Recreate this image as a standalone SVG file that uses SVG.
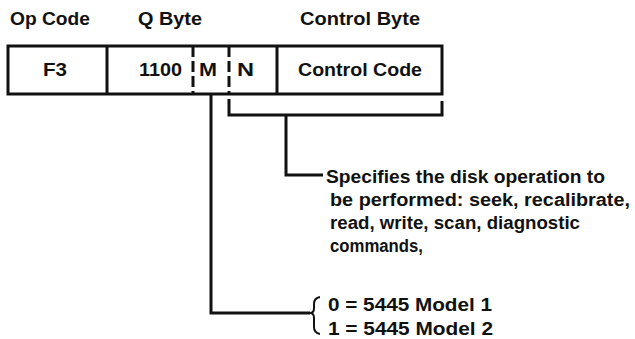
<svg xmlns="http://www.w3.org/2000/svg" width="635" height="339" viewBox="0 0 635 339">
<style>
text{font-family:"Liberation Sans",Arial,sans-serif;font-size:18px;font-weight:bold;fill:#111}
.box{fill:#fff;stroke:#111;stroke-width:3}
.div{stroke:#111;stroke-width:3;fill:none}
.dash{stroke:#111;stroke-width:3;stroke-dasharray:11,4;fill:none}
.conn{stroke:#111;stroke-width:3;fill:none}
.brace{stroke:#111;stroke-width:2;fill:none}
</style>
<g id="headers">
<text x="10" y="25" textLength="80" lengthAdjust="spacingAndGlyphs">Op Code</text>
<text x="138" y="25" textLength="64" lengthAdjust="spacingAndGlyphs">Q Byte</text>
<text x="300" y="25" textLength="120" lengthAdjust="spacingAndGlyphs">Control Byte</text>
</g>
<g id="record">
<rect class="box" x="8" y="46" width="434" height="48"/>
<line class="div" x1="107" y1="46" x2="107" y2="94"/>
<line class="dash" x1="193" y1="46" x2="193" y2="94"/>
<line class="dash" x1="229" y1="46" x2="229" y2="94"/>
<line class="div" x1="277" y1="46" x2="277" y2="94"/>
</g>
<g id="field-opcode"><text x="43" y="76" textLength="24" lengthAdjust="spacingAndGlyphs">F3</text></g>
<g id="field-1100"><text x="139" y="76" textLength="43" lengthAdjust="spacingAndGlyphs">1100</text></g>
<g id="field-M"><text x="199" y="76" textLength="18" lengthAdjust="spacingAndGlyphs">M</text></g>
<g id="field-N"><text x="237" y="76" textLength="17" lengthAdjust="spacingAndGlyphs">N</text></g>
<g id="field-control"><text x="298" y="76" textLength="124" lengthAdjust="spacingAndGlyphs">Control Code</text></g>
<g id="connectors">
<polyline class="conn" points="229,99 229,115 442,115 442,101"/>
<polyline class="conn" points="286,115 286,175 323,175"/>
<polyline class="conn" points="211,94 211,313 310,313"/>
<path class="brace" d="M320,297 Q314,298 314,304 L314,308 Q314,313 310,313 Q314,313 314,318 L314,327 Q314,333 320,334"/>
</g>
<g id="desc-control">
<text x="326" y="183" textLength="279" lengthAdjust="spacingAndGlyphs">Specifies the disk operation to</text>
<text x="330" y="206" textLength="300" lengthAdjust="spacingAndGlyphs">be performed:  seek, recalibrate,</text>
<text x="330" y="229" textLength="250" lengthAdjust="spacingAndGlyphs">read, write, scan, diagnostic</text>
<text x="330" y="252" textLength="93" lengthAdjust="spacingAndGlyphs">commands,</text>
</g>
<g id="desc-model">
<text x="328" y="311" textLength="164" lengthAdjust="spacingAndGlyphs">0 = 5445 Model 1</text>
<text x="328" y="335" textLength="165" lengthAdjust="spacingAndGlyphs">1 = 5445 Model 2</text>
</g>
</svg>
